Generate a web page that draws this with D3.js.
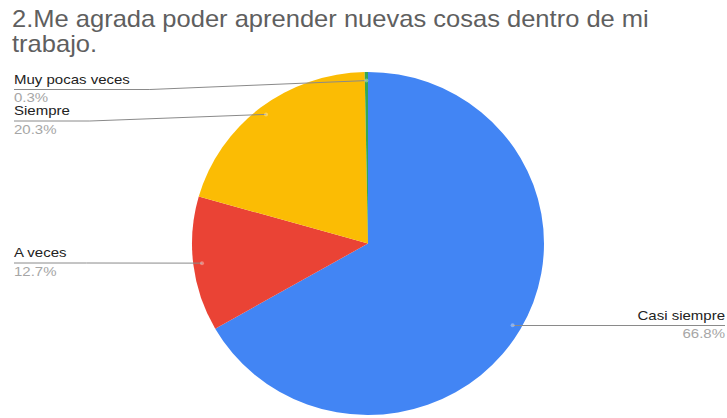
<!DOCTYPE html>
<html>
<head>
<meta charset="utf-8">
<script src="https://cdn.jsdelivr.net/npm/d3@7"></script>
<style>
  html, body { margin: 0; padding: 0; background: #fff; }
  svg { display: block; font-family: Arial, "Liberation Sans", Helvetica, sans-serif; }
</style>
</head>
<body>
<svg id="chart" width="727" height="418"></svg>
<script>
// Survey answers, in drawing order (clockwise from 12 o'clock)
const categories = ["Casi siempre", "A veces", "Siempre", "Muy pocas veces"];
const percentages = [66.8, 12.7, 20.3, 0.3];
const sliceColors = ["#4285f4", "#ea4335", "#fbbc04", "#34a853"];
const titleLines = ["2.Me agrada poder aprender nuevas cosas dentro de mi", "trabajo."];

const W = 727, H = 418;
const titleStretch = 1.11; // the layout's text runs a little wide
const labelStretch = 1.2;
const svg = d3.select("#chart");

// Title
svg.append("g")
  .attr("transform", `translate(12,0) scale(${titleStretch},1)`)
  .append("text")
  .attr("fill", "#5f5f5f")
  .style("font-size", "23px")
  .selectAll("tspan")
  .data(titleLines)
  .join("tspan")
  .attr("x", 0)
  .attr("y", (d, i) => 27 + i * 25)
  .text(d => d);

// Pie geometry (slightly wider than tall)
const cx = 368, cy = 243.5, ry = 171.5, rx = 176;
const sx = rx / ry;

const pie = d3.pie().sort(null).value(d => d.value);
const data = categories.map((c, i) => ({ name: c, value: percentages[i], color: sliceColors[i] }));
const arcs = pie(data);
const arc = d3.arc().innerRadius(0).outerRadius(ry);

const g = svg.append("g").attr("transform", `translate(${cx},${cy}) scale(${sx},1)`);
g.selectAll("path")
  .data(arcs)
  .join("path")
  .attr("d", arc)
  .attr("fill", d => d.data.color);

// Anchor point of each label line: on the slice's mid-angle, near the rim
function anchor(d) {
  const a = (d.startAngle + d.endAngle) / 2;
  const k = 0.95;
  return [cx + Math.sin(a) * rx * k, cy - Math.cos(a) * ry * k];
}

// Label placement: side and the y of the underline
const labelLayout = {
  "Casi siempre":    { side: "right", lineY: 325.5 },
  "A veces":         { side: "left",  lineY: 263 },
  "Siempre":         { side: "left",  lineY: 121 },
  "Muy pocas veces": { side: "left",  lineY: 89.5 }
};
const leftX = 14, rightX = 725;

const labels = svg.append("g");
arcs.forEach(d => {
  const L = labelLayout[d.data.name];
  const [ax, ay] = anchor(d);
  const grp = labels.append("g");
  const tx = L.side === "left" ? leftX : rightX;
  const anchorMode = L.side === "left" ? "start" : "end";
  const tg = grp.append("g").attr("transform", `translate(${tx},0) scale(${labelStretch},1)`);
  const name = tg.append("text")
    .attr("x", 0)
    .attr("y", L.lineY - 5.5)
    .attr("text-anchor", anchorMode)
    .attr("fill", "#222")
    .style("font-size", "12.5px")
    .text(d.data.name);
  tg.append("text")
    .attr("x", 0)
    .attr("y", L.lineY + 13)
    .attr("text-anchor", anchorMode)
    .attr("fill", "#a6a6a6")
    .style("font-size", "12.5px")
    .text(d.data.value.toFixed(1) + "%");
  let pts;
  if (L.side === "left") {
    const tw = name.node().getComputedTextLength() * labelStretch;
    const bend = Math.min(leftX + tw + 20, ax);
    pts = [[leftX, L.lineY], [bend, L.lineY], [ax, ay]];
  } else {
    pts = [[rightX, L.lineY], [ax, L.lineY], [ax, ay]];
  }
  grp.append("path")
    .attr("d", d3.line()(pts))
    .attr("fill", "none")
    .attr("stroke", "#8a8a8a")
    .attr("stroke-width", 1);
  grp.append("circle")
    .attr("cx", ax).attr("cy", ay).attr("r", 2)
    .attr("fill", "#fff").attr("fill-opacity", 0.35);
});
</script>
</body>
</html>
